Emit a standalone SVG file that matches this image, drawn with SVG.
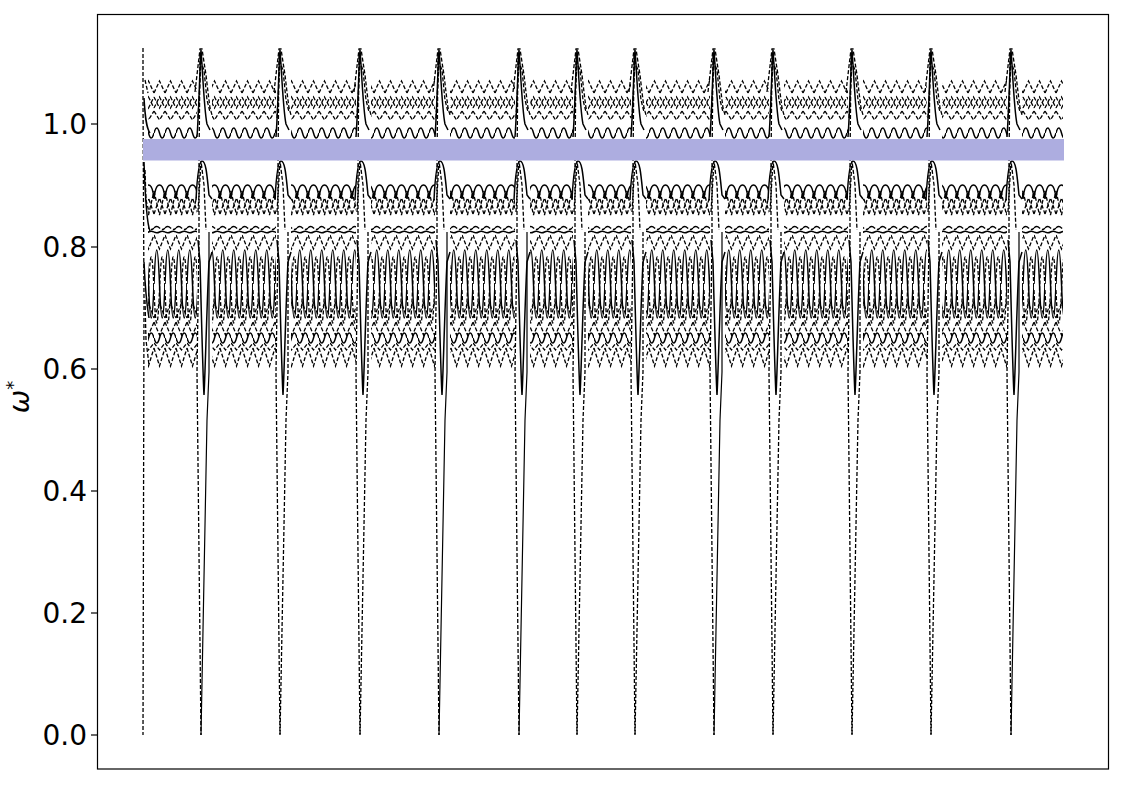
<svg xmlns="http://www.w3.org/2000/svg" width="1125" height="785" viewBox="0 0 1125 785">
<style>
.d{fill:none;stroke:#000;stroke-width:1.3;stroke-dasharray:4 2}
.ld{fill:none;stroke:#000;stroke-width:1.3;stroke-dasharray:7 2}
.s{fill:none;stroke:#000;stroke-width:1.5}
.tk{stroke:#000;stroke-width:1.2}
.lbl{font-family:"DejaVu Sans","Liberation Sans",sans-serif;font-size:28px;fill:#000}
</style>
<defs>
<pattern id="waves" patternUnits="userSpaceOnUse" x="0" y="0" width="11" height="785">
  <path class="d" d="M0,93 L5.5,81 L11,93"/>
  <path class="d" d="M0,97 L5.5,108 L11,97"/>
  <path class="d" d="M0,108 L5.5,97 L11,108"/>
  <path class="d" d="M0,111 L5.5,120 L11,111"/>
  <path class="s" d="M0,133 Q2.75,123 5.5,133 T11,133"/>
  <path class="s" d="M0,199 C1,188 3.5,185 5.5,185 C7.5,185 10,188 11,199"/>
  <path class="d" d="M0,191 L5.5,215 L11,191"/>
  <path class="d" d="M0,214 L5.5,198 L11,214"/>
  <path class="ld" d="M0,228 Q2.75,225 5.5,228 T11,228"/>
  <path class="s" d="M0,232 Q2.75,233.5 5.5,232 T11,232"/>
  <path class="d" d="M0,235 L5.5,249 L11,235"/>
  <path class="s" d="M0,284 Q2.75,216 5.5,284 T11,284"/>
  <path class="d" d="M0,290 Q2.75,356 5.5,290 T11,290"/>
  <path class="d" d="M0,318 L5.5,303 L11,318"/>
  <path class="d" d="M0,322 L5.5,335 L11,322"/>
  <path class="s" d="M0,338 Q2.75,348 5.5,338 T11,338"/>
  <path class="d" d="M0,343 L5.5,350 L11,343"/>
  <path class="d" d="M0,348 L5.5,366 L11,348"/>
</pattern>
<g id="spk-core">
  <path class="s" d="M-4,137 C-2,110 -1,60 0,50 C1,60 3,110 6,124 L9,130"/>
  <path class="d" d="M-6,92 L-1,49 L1,49 L5,75 L7,92 L9,108 L11,115"/>
  <path class="d" d="M-3,118 L0,62 L3,70 L6,100 L9,112"/>
  <path class="s" d="M-5,200 C-4,180 -2,161 1,161 C5,161 6,175 8,195 L11,199"/>
  <path class="d" d="M-3,212 L0,161 L3,185 L5,230"/>
  <path class="s" d="M-3,240 L-1,262 C0,300 2,380 3,395 C4,380 6,300 8,262 L11,252"/>
  <path class="d" d="M-1,55 L-2,165 L-2,240 L-4,372 L0,735"/>
</g>
<g id="spkA"><use href="#spk-core"/><path class="d" d="M8,232 L8,372 L6,420 L0,735"/></g>
<g id="spkB"><use href="#spk-core"/><path class="s" d="M8,232 L8,372 L6,420 L0,735" style="stroke-width:1.2"/></g>
</defs>

<rect width="1125" height="785" fill="#fff"/>

<g id="axes">
  <rect x="97.5" y="14.5" width="1011" height="754.5" fill="none" stroke="#000" stroke-width="1.2"/>
  <g id="yticks">
    <line class="tk" x1="91" y1="735" x2="97" y2="735"/>
    <line class="tk" x1="91" y1="613" x2="97" y2="613"/>
    <line class="tk" x1="91" y1="491" x2="97" y2="491"/>
    <line class="tk" x1="91" y1="369" x2="97" y2="369"/>
    <line class="tk" x1="91" y1="247" x2="97" y2="247"/>
    <line class="tk" x1="91" y1="124" x2="97" y2="124"/>
    <text class="lbl" x="87" y="745" text-anchor="end">0.0</text>
    <text class="lbl" x="87" y="623" text-anchor="end">0.2</text>
    <text class="lbl" x="87" y="501" text-anchor="end">0.4</text>
    <text class="lbl" x="87" y="379" text-anchor="end">0.6</text>
    <text class="lbl" x="87" y="257" text-anchor="end">0.8</text>
    <text class="lbl" x="87" y="134" text-anchor="end">1.0</text>
  </g>
  <text class="lbl" transform="translate(29,397) rotate(-90)" text-anchor="middle"><tspan font-style="italic">ω</tspan><tspan font-size="18" dy="-10">*</tspan></text>
</g>

<g id="curves">
  <g id="bands" fill="url(#waves)">
    <rect x="148" y="70" width="49" height="300"/>
    <rect x="212" y="70" width="64" height="300"/>
    <rect x="291" y="70" width="65" height="300"/>
    <rect x="371" y="70" width="64" height="300"/>
    <rect x="450" y="70" width="65" height="300"/>
    <rect x="530" y="70" width="43" height="300"/>
    <rect x="588" y="70" width="43" height="300"/>
    <rect x="646" y="70" width="64" height="300"/>
    <rect x="725" y="70" width="44" height="300"/>
    <rect x="784" y="70" width="64" height="300"/>
    <rect x="863" y="70" width="64" height="300"/>
    <rect x="942" y="70" width="65" height="300"/>
    <rect x="1022" y="70" width="41" height="300"/>
  </g>
  <g id="start">
    <path class="d" d="M143,48 L143,100 L144,300 L143,735"/>
    <path class="s" d="M144,98 C145,115 146,128 150,133"/>
    <path class="d" d="M145,80 L148,93"/>
    <path class="s" d="M144,162 C145,190 146,222 150,231"/>
    <path class="d" d="M145,170 L146,200 L149,212"/>
    <path class="s" d="M144,262 C145,285 146,300 149,318"/>
    <path class="d" d="M145,300 L146,340 L149,365"/>
  </g>
  <g id="spikes">
    <use href="#spkB" x="201"/>
    <use href="#spkA" x="280"/>
    <use href="#spkA" x="360"/>
    <use href="#spkB" x="439"/>
    <use href="#spkB" x="519"/>
    <use href="#spkA" x="577"/>
    <use href="#spkA" x="635"/>
    <use href="#spkB" x="714"/>
    <use href="#spkA" x="773"/>
    <use href="#spkA" x="852"/>
    <use href="#spkA" x="931"/>
    <use href="#spkB" x="1011"/>
  </g>
</g>

<rect id="band" x="143" y="139" width="921" height="21.5" fill="#adade0"/>
</svg>
